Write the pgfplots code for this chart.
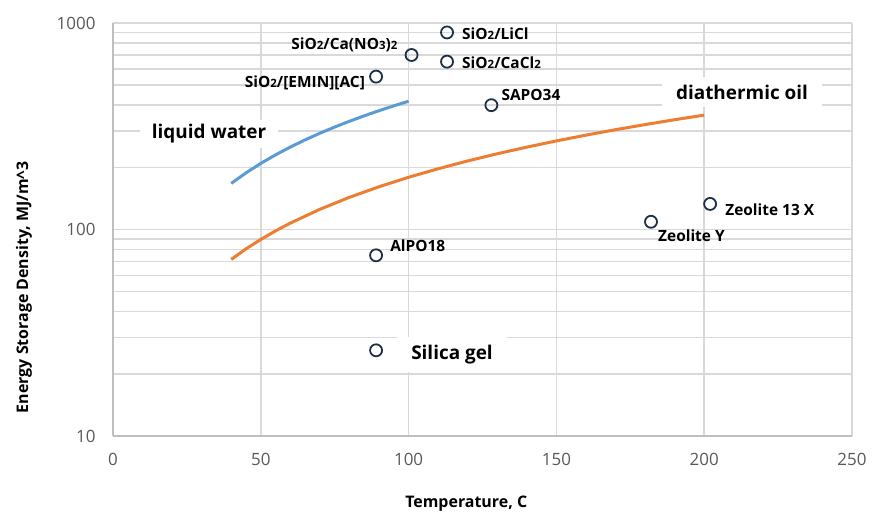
\documentclass[border=0pt]{standalone}
\usepackage{fontspec}
\setmainfont{Open Sans}
\usepackage{pgfplots}
\pgfplotsset{compat=1.18}
\definecolor{gridgray}{HTML}{D9D9D9}
\definecolor{axgray}{HTML}{BFBFBF}
\definecolor{ticktxt}{HTML}{595959}
\definecolor{waterblue}{HTML}{5B9BD5}
\definecolor{oilorange}{HTML}{ED7D31}
\definecolor{mkr}{HTML}{1F3044}
\newcommand{\sm}[1]{{\fontsize{11.5}{11.5}\selectfont #1}}
\tikzset{
    lbl/.style={font=\bfseries\fontsize{15.5}{15.5}\selectfont, inner sep=0pt},
    box/.style={fill=white, font=\bfseries\fontsize{19}{19}\selectfont, inner xsep=14bp, inner ysep=8bp},
}

\begin{document}
\begin{tikzpicture}
\begin{axis}[
    scale only axis,
    width=739bp, height=413bp,
    ymode=log,
    xmin=0, xmax=250, ymin=10, ymax=1000,
    xtick={0,50,...,250},
    ytick={10,100,1000},
    yticklabels={10,100,1000},
    minor ytick={20,30,40,50,60,70,80,90,200,300,400,500,600,700,800,900},
    grid=both,
    major grid style={gridgray, line width=1.5bp},
    minor grid style={gridgray, line width=1.5bp},
    axis x line*=bottom, axis y line*=left,
    axis line style={axgray, line width=2.5bp},
    tick style={draw=none},
    /pgf/number format/assume math mode=true,
    ticklabel style={font=\fontsize{17}{17}\selectfont, text=ticktxt},
    yticklabel style={xshift=-14bp},
    xticklabel style={yshift=-14bp},
    xlabel={Temperature, C},
    ylabel={Energy Storage Density, MJ/m\^{}3},
    every axis x label/.style={at={(axis description cs:0.478,-0.172)}, anchor=base,
        font=\bfseries\fontsize{16}{16}\selectfont},
    every axis y label/.style={at={(axis description cs:-0.1204,0.36)}, anchor=center, rotate=90,
        font=\bfseries\fontsize{16}{16}\selectfont},
    clip=false,
]
% liquid water, 40-100 C
\addplot[waterblue, line width=3bp, no markers] coordinates {
    (40,167.2) (45,188.1) (50,209.0) (55,229.9) (60,250.8) (65,271.7)
    (70,292.6) (75,313.5) (80,334.4) (85,355.3) (90,376.2) (95,397.1) (100,418.0)
};
% diathermic oil, 40-200 C
\addplot[oilorange, line width=3bp, no markers] coordinates {
    (40,71.6) (45,80.6) (50,89.5) (55,98.5) (60,107.4) (70,125.3) (80,143.2) (90,161.1)
    (100,179.0) (110,196.9) (120,214.8) (130,232.7) (140,250.6) (150,268.5)
    (160,286.4) (170,304.3) (180,322.2) (190,340.1) (200,358.0)
};
% sorbent materials
\addplot[only marks, mark=o, mark size=6bp, mark options={mkr, line width=1.8bp, fill=white}] coordinates {
    (113,900) (113,650) (101,700) (89,550) (128,400)
    (202,133) (182,109) (89,75) (89,26)
};
\node[lbl, anchor=west, xshift=15bp, yshift=-1bp] at (axis cs:113,900) {SiO\sm{2}/LiCl};
\node[lbl, anchor=west, xshift=15bp, yshift=-1bp] at (axis cs:113,650) {SiO\sm{2}/CaCl\sm{2}};
\node[lbl, anchor=east, xshift=-14bp, yshift=10bp] at (axis cs:101,700) {SiO\sm{2}/Ca(NO\sm{3})\sm{2}};
\node[lbl, anchor=east, xshift=-11bp, yshift=-6bp] at (axis cs:89,550) {SiO\sm{2}/[EMIN][AC]};
\node[lbl, anchor=west, xshift=10bp, yshift=10bp] at (axis cs:128,400) {SAPO34};
\node[lbl, anchor=west, xshift=15bp, yshift=-6bp] at (axis cs:202,133) {Zeolite 13 X};
\node[lbl, anchor=west, xshift=7bp, yshift=-14bp] at (axis cs:182,109) {Zeolite Y};
\node[lbl, anchor=west, xshift=14bp, yshift=10bp] at (axis cs:89,75) {AlPO18};
\node[box, anchor=west, xshift=21bp, yshift=-4bp] at (axis cs:89,26) {Silica gel};
\node[box, inner xsep=12bp, inner ysep=5bp] at (axis cs:32.5,290) {liquid water};
\node[box] at (axis cs:212.8,463) {diathermic oil};
\coordinate (O) at (rel axis cs:0,0);
\end{axis}
\pgfresetboundingbox
\path[use as bounding box] (O) ++(-113bp,-77bp) rectangle ++(872bp,513bp);
\end{tikzpicture}
\end{document}
